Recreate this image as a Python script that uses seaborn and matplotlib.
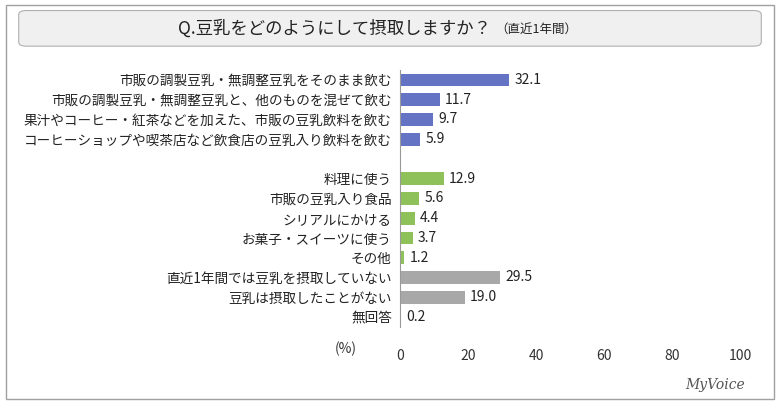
import matplotlib.pyplot as plt
import seaborn as sns
import pandas as pd
from matplotlib.patches import FancyBboxPatch, Rectangle

plt.rcParams['font.family'] = 'Noto Sans CJK JP'

# data
items = ['市販の調製豆乳・無調整豆乳をそのまま飲む',
         '市販の調製豆乳・無調整豆乳と、他のものを混ぜて飲む',
         '果汁やコーヒー・紅茶などを加えた、市販の豆乳飲料を飲む',
         'コーヒーショップや喫茶店など飲食店の豆乳入り飲料を飲む',
         ' ',
         '料理に使う', '市販の豆乳入り食品', 'シリアルにかける',
         'お菓子・スイーツに使う', 'その他',
         '直近1年間では豆乳を摂取していない', '豆乳は摂取したことがない', '無回答']
values = [32.1, 11.7, 9.7, 5.9, None, 12.9, 5.6, 4.4, 3.7, 1.2, 29.5, 19.0, 0.2]
groups = ['a', 'a', 'a', 'a', 'a', 'b', 'b', 'b', 'b', 'b', 'c', 'c', 'c']
palette = {'a': '#5468d4', 'b': '#8fd24a', 'c': '#a8a8a8'}

df = pd.DataFrame({'item': items, 'value': values, 'group': groups})

fig = plt.figure(figsize=(7.8, 4.05), dpi=100)
fig.patches.append(Rectangle((0.008, 0.015), 0.984, 0.972, transform=fig.transFigure,
                             fill=False, edgecolor='#a0a0a0', lw=1))
fig.patches.append(FancyBboxPatch((0.028, 0.89), 0.944, 0.08, transform=fig.transFigure,
                                  boxstyle='round,pad=0.004,rounding_size=0.01',
                                  facecolor='#f0f0f0', edgecolor='#b0b0b0', lw=0.8))
fig.text(0.63, 0.93, 'Q.豆乳をどのようにして摂取しますか？', ha='right', va='center',
         fontsize=12.5, color='#222222')
fig.text(0.635, 0.928, '（直近1年間）', ha='left', va='center', fontsize=9, color='#222222')

ax = fig.add_axes([0.513, 0.193, 0.436, 0.634])
sns.barplot(data=df, x='value', y='item', hue='group', palette=palette, order=items,
            orient='h', width=0.65, legend=False, ax=ax, dodge=False)
for i, v in enumerate(values):
    if v is not None:
        ax.text(v + 1.5, i, f'{v:.1f}', va='center', ha='left', fontsize=10, color='#222222')

ax.set_xlim(0, 100)
ax.set_ylim(len(items) - 0.5, -0.5)
ax.set_xticks([0, 20, 40, 60, 80, 100])
ax.tick_params(axis='x', length=0, pad=16, labelsize=10, colors='#333333')
ax.tick_params(axis='y', length=0, pad=6, labelsize=9.8, colors='#222222')
ax.set_xlabel('')
ax.set_ylabel('')
for s in ['top', 'right', 'bottom']:
    ax.spines[s].set_visible(False)
ax.spines['left'].set_color('#999999')
fig.text(0.443, 0.138, '(%)', ha='center', va='center', fontsize=10, color='#333333')

fig.text(0.955, 0.05, 'MyVoice', ha='right', va='center', fontsize=10,
         fontfamily='DejaVu Serif', color='#555555', style='italic')

fig.savefig('out.png', dpi=100)
